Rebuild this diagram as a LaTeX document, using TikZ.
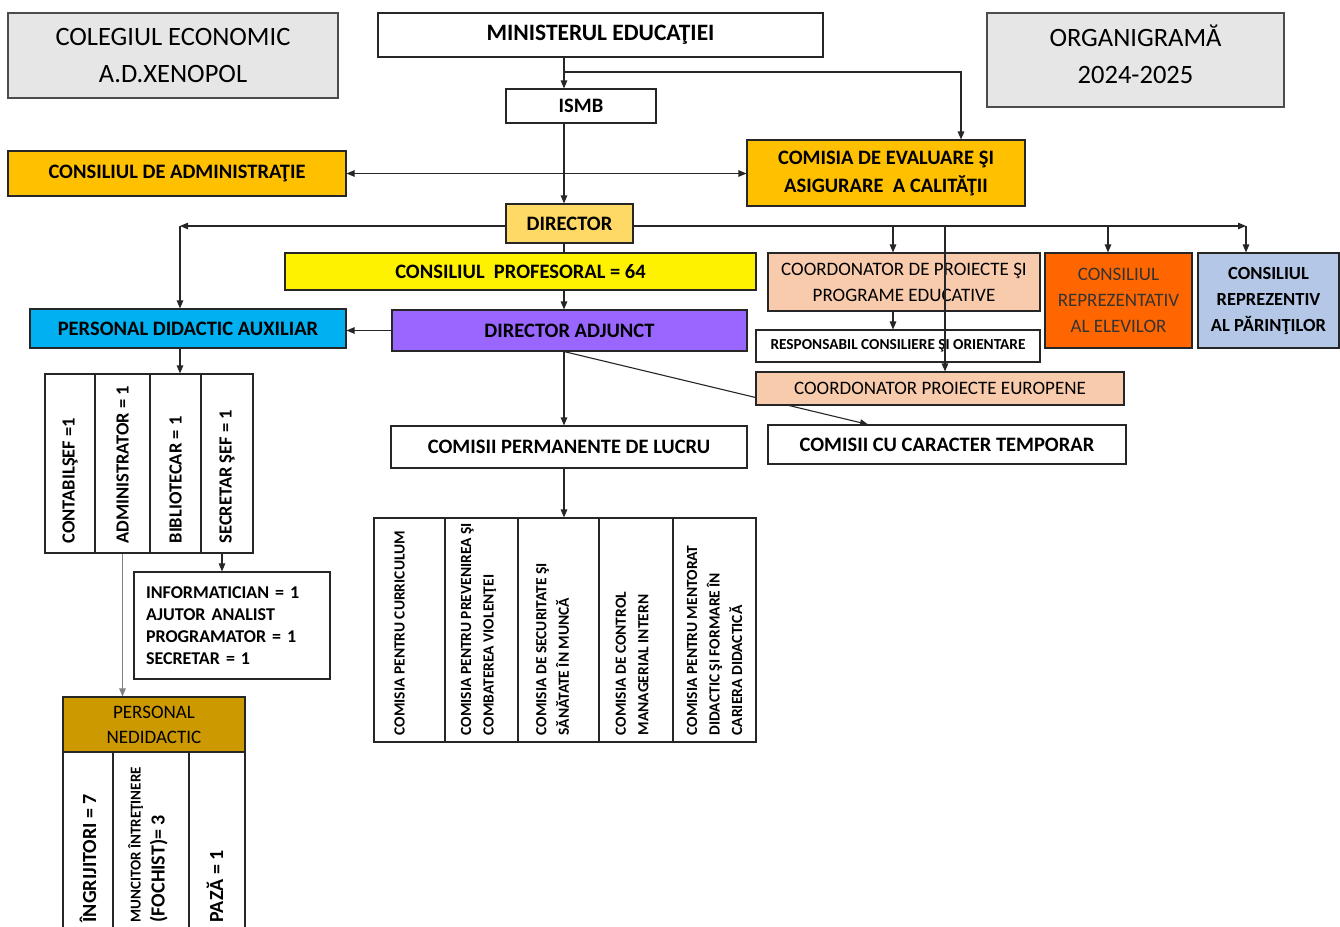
\documentclass[tikz,border=0pt]{standalone}
\usepackage{fontspec}
\setmainfont{Carlito}
\usepackage{tikz}
\usetikzlibrary{arrows.meta, backgrounds}

\definecolor{hdrgray}{HTML}{E6E6E6}
\definecolor{gold}{HTML}{FFC000}
\definecolor{dirgold}{HTML}{FFD966}
\definecolor{peach}{HTML}{F8CBAD}
\definecolor{elevorange}{HTML}{FF6600}
\definecolor{parblue}{HTML}{B4C7E7}
\definecolor{auxcyan}{HTML}{00B0F0}
\definecolor{adjpurple}{HTML}{9966FF}
\definecolor{nedgold}{HTML}{CC9900}

\tikzset{
  box/.style={draw=black!85, line width=1.1pt, inner sep=0pt, align=center,
    font=\bfseries\fontsize{20.5}{28}\selectfont},
  hdr/.style={box, fill=hdrgray, draw=black!70, font=\fontsize{26.5}{37}\selectfont},
  colbox/.style={draw=black!85, line width=1.1pt, inner sep=0pt},
  vtext/.style={rotate=90, anchor=west, inner sep=0pt, align=left,
    font=\bfseries\fontsize{18.5}{22}\selectfont},
  comtext/.style={vtext, font=\bfseries\fontsize{15.5}{22.5}\selectfont},
  conn/.style={line width=1.1pt, draw=black!85},
  >={Triangle[length=8pt,width=6.5pt]}
}

\begin{document}
\begin{tikzpicture}[x=1pt, y=-1pt]
\useasboundingbox (0,0) rectangle (1340,926);
\begin{scope}[on background layer]
\fill[white] (0,0) rectangle (1340,926);
\end{scope}
\clip (0,0) rectangle (1340,926);

% Header boxes
\node (colegiu) at (173,55.5) [hdr, minimum width=330pt, minimum height=85pt] {COLEGIUL ECONOMIC\\A.D.XENOPOL};
\node (min) at (600.5,35) [box, minimum width=445pt, minimum height=44pt, font=\bfseries\fontsize{23.5}{28}\selectfont] {MINISTERUL EDUCAŢIEI};
\node (organigrama) at (1135.5,60) [hdr, minimum width=297pt, minimum height=94pt] {};
\node (organigramat) at (1135.5,54.5) [font=\fontsize{26.5}{37}\selectfont, align=center, inner sep=0pt] {ORGANIGRAMĂ\\2024-2025};
\node (ismb) at (581,106) [box, minimum width=150pt, minimum height=34pt] {ISMB};

% Councils
\node (cadmin) at (177,173.5) [box, fill=gold, minimum width=338pt, minimum height=45pt] {CONSILIUL DE ADMINISTRAŢIE};
\node (ceac) at (886,173) [box, fill=gold, minimum width=278pt, minimum height=66pt] {COMISIA DE EVALUARE ŞI\\ASIGURARE\ \ A CALITĂŢII};
\node (director) at (569.5,223.5) [box, fill=dirgold, minimum width=127pt, minimum height=39pt] {DIRECTOR};
\node (cprof) at (520.5,271.5) [box, fill=yellow, minimum width=471pt, minimum height=37pt] {CONSILIUL\ \ PROFESORAL = 64};
\node (coordpp) at (904,282) [box, fill=peach, minimum width=272pt, minimum height=58pt, font=\fontsize{19}{26}\selectfont] {COORDONATOR DE PROIECTE ŞI\\PROGRAME EDUCATIVE};
\node (elevi) at (1118.5,300.5) [box, fill=elevorange, minimum width=147pt, minimum height=95pt, text=black!80, font=\fontsize{19}{26}\selectfont] {CONSILIUL\\REPREZENTATIV\\AL ELEVILOR};
\node (parinti) at (1268.5,300.5) [box, fill=parblue, minimum width=141pt, minimum height=95pt, font=\bfseries\fontsize{18.5}{26}\selectfont] {CONSILIUL\\REPREZENTIV\\AL PĂRINŢILOR};

% Second row
\node (pda) at (188,328.5) [box, fill=auxcyan, minimum width=316pt, minimum height=39pt] {PERSONAL DIDACTIC AUXILIAR};
\node (adjunct) at (569.5,330.5) [box, fill=adjpurple, minimum width=355pt, minimum height=41pt] {DIRECTOR ADJUNCT};
\node (resp) at (898,346) [box, minimum width=284pt, minimum height=32pt, font=\bfseries\fontsize{15.3}{18}\selectfont] {RESPONSABIL CONSILIERE ŞI ORIENTARE};
\node (cpe) at (940,388.5) [box, fill=peach, minimum width=368pt, minimum height=33pt, font=\fontsize{19}{22}\selectfont] {COORDONATOR PROIECTE EUROPENE};
\node (cperm) at (569,447) [box, minimum width=356pt, minimum height=42pt] {COMISII PERMANENTE DE LUCRU};
\node (ctemp) at (947,444.5) [box, minimum width=358pt, minimum height=39pt] {COMISII CU CARACTER TEMPORAR};

% Auxiliary staff columns
\node (aux1) at (70,463.5) [colbox, minimum width=50pt, minimum height=179pt] {};
\node (aux2) at (122.5,463.5) [colbox, minimum width=55pt, minimum height=179pt] {};
\node (aux3) at (175.5,463.5) [colbox, minimum width=51pt, minimum height=179pt] {};
\node (aux4) at (227,463.5) [colbox, minimum width=52pt, minimum height=179pt] {};
\node (aux1t) at ([yshift=10pt]aux1.south) [vtext] {CONTABILŞEF =1};
\node (aux2t) at ([yshift=10pt]aux2.south) [vtext] {ADMINISTRATOR = 1};
\node (aux3t) at ([yshift=10pt]aux3.south) [vtext] {BIBLIOTECAR = 1};
\node (aux4t) at ([yshift=10pt]aux4.south) [vtext] {SECRETAR ŞEF = 1};
\node (info) at (232,625.5) [box, minimum width=196pt, minimum height=107pt, text width=172pt, inner xsep=12pt, align=left, font=\bfseries\fontsize{18}{22}\selectfont] {INFORMATICIAN = 1\\AJUTOR ANALIST\\PROGRAMATOR = 1\\SECRETAR = 1};

% Permanent commissions
\node (com1) at (409.5,630) [colbox, minimum width=71pt, minimum height=224pt] {};
\node (com2) at (481.5,630) [colbox, minimum width=73pt, minimum height=224pt] {};
\node (com3) at (558.5,630) [colbox, minimum width=81pt, minimum height=224pt] {};
\node (com4) at (636,630) [colbox, minimum width=74pt, minimum height=224pt] {};
\node (com5) at (714.5,630) [colbox, minimum width=83pt, minimum height=224pt] {};
\node (com1t) at ([xshift=-10pt, yshift=7pt]com1.south) [comtext] {COMISIA PENTRU CURRICULUM};
\node (com2t) at ([xshift=-3pt, yshift=7pt]com2.south) [comtext] {COMISIA PENTRU PREVENIREA ŞI\\COMBATEREA VIOLENŢEI};
\node (com3t) at ([xshift=-6pt, yshift=7pt]com3.south) [comtext] {COMISIA DE SECURITATE ŞI\\SĂNĂTATE ÎN MUNCĂ};
\node (com4t) at ([xshift=-4pt, yshift=7pt]com4.south) [comtext] {COMISIA DE CONTROL\\MANAGERIAL INTERN};
\node (com5t) at ([yshift=7pt]com5.south) [comtext] {COMISIA PENTRU MENTORAT\\DIDACTIC ŞI FORMARE ÎN\\CARIERA DIDACTICĂ};

% Non-teaching staff
\node (pnd) at (154,724.5) [box, fill=nedgold, minimum width=182pt, minimum height=55pt, font=\fontsize{19}{25}\selectfont] {PERSONAL\\NEDIDACTIC};
\node (ned1) at (88,846) [colbox, minimum width=50pt, minimum height=188pt] {};
\node (ned2) at (151,846) [colbox, minimum width=76pt, minimum height=188pt] {};
\node (ned3) at (217,846) [colbox, minimum width=56pt, minimum height=188pt] {};
\node (ned1t) at ([yshift=18pt]ned1.south) [vtext, font=\bfseries\fontsize{20}{24}\selectfont] {ÎNGRIJITORI = 7};
\node (ned2t) at ([xshift=-3pt, yshift=18pt]ned2.south) [vtext, font=\bfseries\fontsize{20}{24}\selectfont] {{\fontsize{15}{17}\selectfont MUNCITOR ÎNTREŢINERE}\\(FOCHIST)= 3};
\node (ned3t) at ([xshift=-2pt, yshift=18pt]ned3.south) [vtext, font=\bfseries\fontsize{20}{24}\selectfont] {PAZĂ = 1};

% Guide coordinates
\coordinate (spine) at (564,0);
\coordinate (mfork) at (564,72);
\coordinate (dline) at (0,226);
\coordinate (pdacol) at (180,0);
\coordinate (cppcol) at (893,0);
\coordinate (eucol) at (945,0);
\coordinate (elcol) at (1108,0);
\coordinate (parcol) at (1246,0);
\coordinate (ceaccol) at (961,0);
\coordinate (infocol) at (222,0);

% Ministry and inspectorate
\draw[conn,->] (min.south -| spine) -- (ismb.north -| spine);
\draw[conn,->] (mfork) -| (ceac.north -| ceaccol);
\draw[conn,->] (ismb.south -| spine) -- (director.north -| spine);
\draw[conn,<->] (cadmin.east) -- (cadmin.east -| ceac.west);

% Director branches
\draw[conn,->] (director.west |- dline) -- (pdacol |- dline);
\draw[conn,->] (pdacol |- dline) -- (pdacol |- pda.north);
\draw[conn,->] (director.east |- dline) -- (parcol |- dline);
\draw[conn,->] (parcol |- dline) -- (parcol |- parinti.north);
\draw[conn,->] (cppcol |- dline) -- (cppcol |- coordpp.north);
\draw[conn,->] (elcol |- dline) -- (elcol |- elevi.north);
\draw[conn,->] (eucol |- dline) -- (eucol |- cpe.north);
\draw[conn] (director.south -| spine) -- (cprof.north -| spine);
\draw[conn,->] (cprof.south -| spine) -- (adjunct.north -| spine);
\draw[conn,->] (coordpp.south -| cppcol) -- (resp.north -| cppcol);

% Deputy director
\draw[conn,->] (adjunct.west) -- (adjunct.west -| pda.east);
\draw[conn,->] (adjunct.south -| spine) -- (cperm.north -| spine);
\begin{scope}[on background layer]
\draw[conn,->] (adjunct.south -| spine) -- ([xshift=-79pt]ctemp.north);
\end{scope}
\draw[conn,->] (cperm.south -| spine) -- (com3.north -| spine);

% Auxiliary staff
\draw[conn,->] (pda.south -| pdacol) -- (aux3.north -| pdacol);
\draw[conn,->] (aux4.south -| infocol) -- (info.north -| infocol);
\draw[conn,->,draw=gray] (aux2.south) -- (pnd.north -| aux2.south);

\end{tikzpicture}
\end{document}
